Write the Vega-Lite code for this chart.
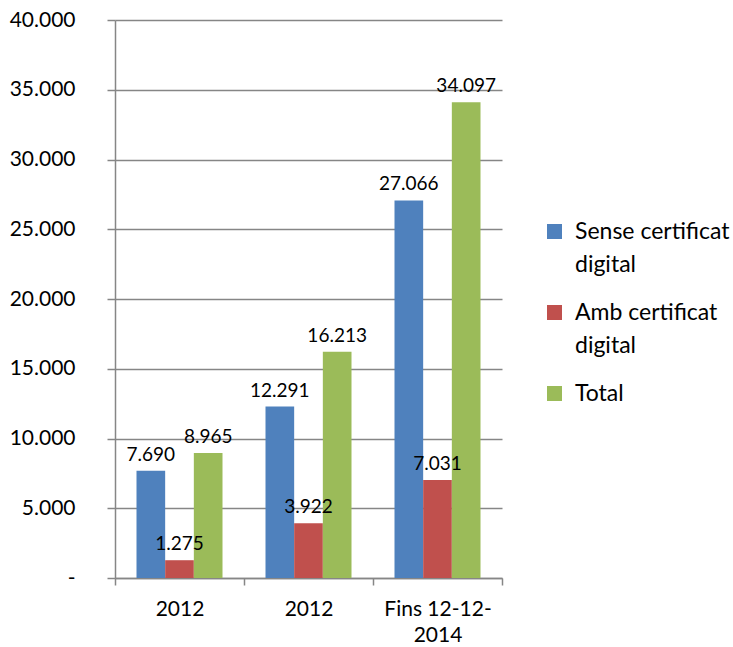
{
  "$schema": "https://vega.github.io/schema/vega-lite/v6.json",
  "autosize": "none",
  "padding": {"left": 115, "top": 20, "right": 231, "bottom": 69},
  "width": 387,
  "height": 558,
  "background": "white",
  "config": {
    "font": "Lato",
    "view": {"stroke": null},
    "locale": {"number": {"decimal": ",", "thousands": ".", "grouping": [3], "currency": ["", " €"]}}
  },
  "data": {
    "values": [
      {"periode": "2012 (1)", "serie": "Sense certificat digital", "valor": 7690},
      {"periode": "2012 (1)", "serie": "Amb certificat digital", "valor": 1275},
      {"periode": "2012 (1)", "serie": "Total", "valor": 8965},
      {"periode": "2012 (2)", "serie": "Sense certificat digital", "valor": 12291},
      {"periode": "2012 (2)", "serie": "Amb certificat digital", "valor": 3922},
      {"periode": "2012 (2)", "serie": "Total", "valor": 16213},
      {"periode": "Fins 12-12-2014", "serie": "Sense certificat digital", "valor": 27066},
      {"periode": "Fins 12-12-2014", "serie": "Amb certificat digital", "valor": 7031},
      {"periode": "Fins 12-12-2014", "serie": "Total", "valor": 34097}
    ]
  },
  "encoding": {
    "x": {
      "field": "periode",
      "type": "nominal",
      "sort": null,
      "scale": {"paddingInner": 0, "paddingOuter": 0},
      "axis": {
        "title": null,
        "labelAngle": 0,
        "labelFontSize": 21,
        "labelColor": "#000000",
        "labelPadding": 13,
        "labelLineHeight": 26,
        "labelExpr": "datum.value == 'Fins 12-12-2014' ? ['Fins 12-12-', '2014'] : (datum.value == '2012 (1)' || datum.value == '2012 (2)') ? '2012' : ''",
        "tickBand": "extent",
        "tickSize": 7,
        "tickColor": "#868686",
        "tickWidth": 1.5,
        "domainColor": "#868686",
        "domainWidth": 1.5,
        "grid": false
      }
    },
    "xOffset": {
      "field": "serie",
      "type": "nominal",
      "sort": ["Sense certificat digital", "Amb certificat digital", "Total"],
      "scale": {"paddingInner": 0, "paddingOuter": 0.75}
    },
    "y": {
      "field": "valor",
      "type": "quantitative",
      "scale": {"domain": [0, 40000], "nice": false},
      "axis": {
        "title": null,
        "values": [0, 5000, 10000, 15000, 20000, 25000, 30000, 35000, 40000],
        "format": ",d",
        "labelExpr": "datum.value == 0 ? '-' : datum.label",
        "labelFontSize": 21,
        "labelColor": "#000000",
        "labelPadding": 32,
        "tickSize": 8,
        "tickColor": "#868686",
        "tickWidth": 1.5,
        "domainColor": "#868686",
        "domainWidth": 1.5,
        "gridColor": "#868686",
        "gridWidth": 1.5,
        "encode": {
          "labels": {"update": {"dx": {"signal": "datum.value == 0 ? -9 : 0"}}}
        }
      }
    }
  },
  "layer": [
    {
      "mark": {"type": "bar"},
      "encoding": {
        "color": {
          "field": "serie",
          "type": "nominal",
          "sort": ["Sense certificat digital", "Amb certificat digital", "Total"],
          "scale": {"domain": ["Sense certificat digital", "Amb certificat digital", "Total"], "range": ["#4F81BD", "#C0504D", "#9BBB59"]},
          "legend": {
            "title": null,
            "orient": "none",
            "legendX": 428,
            "legendY": 200,
            "padding": 0,
            "symbolType": "square",
            "symbolSize": 225,
            "symbolStrokeWidth": 0,
            "labelFontSize": 23,
            "labelColor": "#000000",
            "labelLimit": 300,
            "labelOffset": 9,
            "labelExpr": "datum.value == 'Total' ? 'Total' : [split(datum.value, ' digital')[0], 'digital']",
            "rowPadding": 24,
            "encode": {
              "labels": {"update": {"fontSize": {"value": 23}, "lineHeight": {"value": 33}}}
            }
          }
        }
      }
    },
    {
      "mark": {"type": "text", "baseline": "alphabetic", "dy": -10, "fontSize": 19, "color": "#000000"},
      "encoding": {
        "text": {"field": "valor", "type": "quantitative", "format": ",d"}
      }
    }
  ]
}
